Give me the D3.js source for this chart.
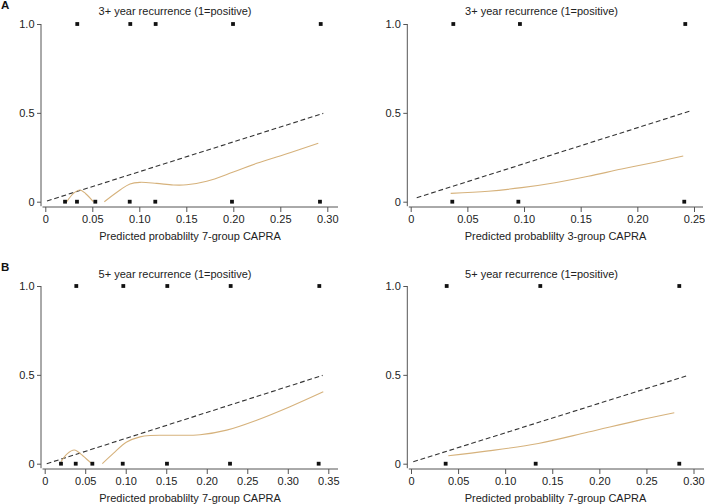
<!DOCTYPE html>
<html>
<head>
<meta charset="utf-8">
<script src="https://cdn.jsdelivr.net/npm/d3@7"></script>
<style>
  body { margin: 0; background: #fff; }
  svg { display: block; }
  text { font-family: "Liberation Sans", Arial, Helvetica, sans-serif; fill: #222; }
</style>
</head>
<body>
<svg id="chart" width="705" height="504"></svg>
<script>
// ---------- DATA ----------
const panelLetters = ["A", "B"];
const panelTitles = [
  "3+ year recurrence (1=positive)",
  "3+ year recurrence (1=positive)",
  "5+ year recurrence (1=positive)",
  "5+ year recurrence (1=positive)"
];
const xTitles = [
  "Predicted probablilty 7-group CAPRA",
  "Predicted probablilty 3-group CAPRA",
  "Predicted probablilty 7-group CAPRA",
  "Predicted probablilty 7-group CAPRA"
];
const yTicks = [0, 0.5, 1.0];
const yTickLabels = ["0", "0.5", "1.0"];
const xTicksA = [0, 0.05, 0.10, 0.15, 0.20, 0.25, 0.30];
const xTicksB = [0, 0.05, 0.10, 0.15, 0.20, 0.25];
const xTicksC = [0, 0.05, 0.10, 0.15, 0.20, 0.25, 0.30, 0.35];
const xTicksD = [0, 0.05, 0.10, 0.15, 0.20, 0.25, 0.30];
const xTickLabelsA = ["0", "0.05", "0.10", "0.15", "0.20", "0.25", "0.30"];
const xTickLabelsB = ["0", "0.05", "0.10", "0.15", "0.20", "0.25"];
const xTickLabelsC = ["0", "0.05", "0.10", "0.15", "0.20", "0.25", "0.30", "0.35"];
const xTickLabelsD = ["0", "0.05", "0.10", "0.15", "0.20", "0.25", "0.30"];

// observed outcomes (x = predicted probability), 1 = recurrence, 0 = none
const posA = [0.034, 0.0904, 0.1174, 0.1997, 0.293];
const negA = [0.021, 0.0337, 0.0532, 0.0898, 0.117, 0.1986, 0.2922];
const posB = [0.0376, 0.0964, 0.2423];
const negB = [0.0367, 0.095, 0.2414];
const posC = [0.039, 0.097, 0.1513, 0.2295, 0.3389];
const negC = [0.0201, 0.0383, 0.0588, 0.0963, 0.1509, 0.2287, 0.3381];
const posD = [0.0379, 0.1373, 0.2849];
const negD = [0.0368, 0.1324, 0.2849];

// smoothed calibration curves [predicted, observed]
const smoothA1 = [[0.0228, 0.0], [0.030, 0.047], [0.0369, 0.066], [0.043, 0.045], [0.0511, 0.0]];
const smoothA2 = [[0.0628, 0.0], [0.0795, 0.066], [0.0901, 0.100], [0.1007, 0.109], [0.1185, 0.103],
                  [0.1362, 0.094], [0.1504, 0.095], [0.1717, 0.115], [0.200, 0.167], [0.2249, 0.216],
                  [0.2603, 0.276], [0.2904, 0.329]];
const smoothB = [[0.0353, 0.047], [0.0685, 0.059], [0.0979, 0.079], [0.1273, 0.107], [0.1567, 0.143],
                 [0.1862, 0.184], [0.2156, 0.222], [0.2405, 0.257]];
const smoothC1 = [[0.0201, 0.011], [0.028, 0.057], [0.0365, 0.077], [0.047, 0.045], [0.058, 0.0]];
const smoothC2 = [[0.0711, 0.0], [0.0847, 0.058], [0.1012, 0.122], [0.1176, 0.151], [0.130, 0.159],
                  [0.1587, 0.160], [0.1917, 0.163], [0.2246, 0.189], [0.2616, 0.245], [0.3027, 0.321],
                  [0.3438, 0.405]];
const smoothD = [[0.0396, 0.045], [0.0821, 0.072], [0.1352, 0.114], [0.1883, 0.178], [0.2414, 0.244],
                 [0.2796, 0.287]];

// reference (dashed) lines [predicted, observed]
const refA = [[0.0018, 0.004], [0.2957, 0.497]];
const refB = [[0.0053, 0.0225], [0.2465, 0.510]];
const refC = [[0.0025, 0.0], [0.343, 0.497]];
const refD = [[0.0024, 0.011], [0.2938, 0.496]];

// ---------- LAYOUT ----------
const svg = d3.select("#chart");
const panels = [
  { xMax: 0.30, ticks: xTicksA, labels: xTickLabelsA, pos: posA, neg: negA, curves: [smoothA1, smoothA2], ref: refA,
    x0: 45.3, x1: 327.3, y0: 201.7, y1: 24, axX: 41, axEnd: 338, titleX: 175, titleY: 15, xtitleX: 190, letter: 0 },
  { xMax: 0.25, ticks: xTicksB, labels: xTickLabelsB, pos: posB, neg: negB, curves: [smoothB], ref: refB,
    x0: 410.7, x1: 694, y0: 201.7, y1: 24, axX: 407.3, axEnd: 703, titleX: 541.5, titleY: 15, xtitleX: 555.5, letter: -1 },
  { xMax: 0.35, ticks: xTicksC, labels: xTickLabelsC, pos: posC, neg: negC, curves: [smoothC1, smoothC2], ref: refC,
    x0: 44.7, x1: 328.3, y0: 463.7, y1: 286, axX: 41, axEnd: 338, titleX: 175, titleY: 277.7, xtitleX: 190, letter: 1 },
  { xMax: 0.30, ticks: xTicksD, labels: xTickLabelsD, pos: posD, neg: negD, curves: [smoothD], ref: refD,
    x0: 411, x1: 693.5, y0: 463.7, y1: 286, axX: 407.3, axEnd: 704, titleX: 541.5, titleY: 277.7, xtitleX: 555.5, letter: -1 }
];

panels.forEach((p, i) => {
  const g = svg.append("g");
  const x = d3.scaleLinear().domain([0, p.xMax]).range([p.x0, p.x1]);
  const y = d3.scaleLinear().domain([0, 1]).range([p.y0, p.y1]);
  const axisY = p.y0 + 5.3;

  // panel title
  g.append("text").attr("x", p.titleX).attr("y", p.titleY)
    .attr("text-anchor", "middle").style("font-size", "11px").text(panelTitles[i]);

  if (p.letter >= 0) {
    g.append("text").attr("x", 1).attr("y", p.titleY - 6.3)
      .style("font-size", "11.5px").style("font-weight", "bold").style("fill", "#111")
      .text(panelLetters[p.letter]);
  }

  // y axis
  const yAxis = d3.axisLeft(y).tickValues(yTicks).tickFormat((d, k) => yTickLabels[k])
    .tickSize(4).tickPadding(2.5);
  const gy = g.append("g").attr("transform", `translate(${p.axX},0)`).call(yAxis);
  gy.select(".domain").remove();
  gy.append("line").attr("x1", 0).attr("x2", 0).attr("y1", y(1)).attr("y2", p.y0 + 4.5)
    .attr("stroke", "#555").attr("stroke-width", 1);
  gy.selectAll(".tick line").attr("stroke", "#555");
  gy.selectAll(".tick text").style("font-size", "11px").style("fill", "#222")
    .style("font-family", "'Liberation Sans', Arial, sans-serif");

  // x axis
  const xAxis = d3.axisBottom(x).tickValues(p.ticks).tickFormat((d, k) => p.labels[k])
    .tickSize(5).tickPadding(3);
  const gx = g.append("g").attr("transform", `translate(0,${axisY})`).call(xAxis);
  gx.select(".domain").remove();
  gx.append("line").attr("x1", p.axX + 1.5).attr("x2", p.axEnd).attr("y1", 0).attr("y2", 0)
    .attr("stroke", "#555").attr("stroke-width", 1);
  gx.selectAll(".tick line").attr("stroke", "#555");
  gx.selectAll(".tick text").style("font-size", "11px").style("fill", "#222")
    .style("font-family", "'Liberation Sans', Arial, sans-serif");

  // x title
  g.append("text").attr("x", p.xtitleX).attr("y", axisY + 33.3)
    .attr("text-anchor", "middle").style("font-size", "11px").text(xTitles[i]);

  // reference dashed line
  const line = d3.line().x(d => x(d[0])).y(d => y(d[1]));
  g.append("path").datum(p.ref).attr("d", line)
    .attr("fill", "none").attr("stroke", "#333").attr("stroke-width", 1.1)
    .attr("stroke-dasharray", "4.8,2.8");

  // smoothed curves
  const smooth = d3.line().x(d => x(d[0])).y(d => y(d[1])).curve(d3.curveCatmullRom.alpha(0.5));
  p.curves.forEach(c => {
    g.append("path").datum(c).attr("d", smooth)
      .attr("fill", "none").attr("stroke", "#d6b27c").attr("stroke-width", 1.1);
  });

  // observed points
  const s = 3.8;
  const pts = p.pos.map(v => [v, 1]).concat(p.neg.map(v => [v, 0]));
  g.selectAll("rect.pt").data(pts).enter().append("rect")
    .attr("class", "pt")
    .attr("x", d => x(d[0]) - s / 2).attr("y", d => y(d[1]) - s / 2)
    .attr("width", s).attr("height", s).attr("fill", "#111");
});
</script>
</body>
</html>
